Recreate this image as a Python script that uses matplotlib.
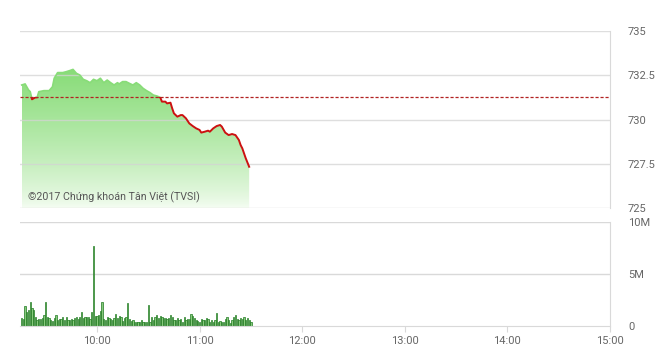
import matplotlib
matplotlib.use("Agg")
import matplotlib.pyplot as plt
import numpy as np
from matplotlib.patches import Rectangle
from matplotlib.colors import to_rgb

# ---------------- data ----------------
ref_price = 731.28

price_times = ["09:16", "09:18", "09:20", "09:21", "09:22", "09:24", "09:25", "09:26", "09:29", "09:32",
               "09:34", "09:35", "09:37", "09:40", "09:42", "09:44", "09:46", "09:48", "09:50", "09:52",
               "09:54", "09:56", "09:58", "10:00", "10:02", "10:04", "10:06", "10:08", "10:10", "10:12",
               "10:13", "10:15", "10:17", "10:19", "10:21", "10:23", "10:25", "10:27", "10:29", "10:31",
               "10:33", "10:35", "10:37", "10:38", "10:40", "10:41", "10:43", "10:44", "10:45", "10:47",
               "10:49", "10:50", "10:52", "10:54", "10:56", "10:58", "11:00", "11:01", "11:03", "11:05",
               "11:06", "11:08", "11:10", "11:12", "11:13", "11:15", "11:17", "11:19", "11:21", "11:23",
               "11:24", "11:25", "11:27", "11:29"]
price_values = [731.95, 732.01, 731.67, 731.57, 731.14, 731.25, 731.25, 731.57, 731.63, 731.63,
                731.85, 732.33, 732.65, 732.65, 732.70, 732.76, 732.83, 732.61, 732.51, 732.27,
                732.19, 732.08, 732.27, 732.19, 732.33, 732.08, 732.23, 732.08, 731.95, 732.08,
                732.01, 732.14, 732.14, 732.04, 731.95, 732.08, 731.95, 731.76, 731.63, 731.52,
                731.38, 731.33, 731.25, 731.01, 731.01, 730.91, 730.95, 730.63, 730.35, 730.16,
                730.25, 730.25, 730.07, 729.78, 729.63, 729.50, 729.41, 729.26, 729.31, 729.37,
                729.31, 729.50, 729.63, 729.69, 729.60, 729.26, 729.12, 729.18, 729.12, 728.84,
                728.56, 728.37, 727.81, 727.33]

volume_start = "09:16"   # one bar per minute
volume_values = [0.75, 0.70, 1.95, 1.30, 1.55, 2.35, 1.70, 1.50, 0.90, 0.60,
                 0.70, 0.70, 0.75, 1.05, 2.35, 0.90, 0.75, 0.60, 0.45, 0.80,
                 1.05, 0.60, 0.65, 0.70, 0.90, 0.60, 0.85, 0.60, 0.60, 0.65,
                 0.60, 0.75, 0.85, 0.65, 0.90, 1.30, 0.75, 0.85, 0.90, 0.85,
                 0.70, 1.30, 7.66, 0.95, 1.00, 1.07, 1.40, 2.27, 0.65, 0.58,
                 0.84, 0.75, 0.71, 0.58, 0.75, 1.17, 0.75, 0.97, 0.84, 0.52,
                 0.75, 0.84, 2.20, 0.65, 0.52, 0.58, 0.42, 0.42, 0.39, 0.42,
                 0.58, 0.42, 0.42, 0.39, 2.00, 0.42, 0.84, 0.58, 0.91, 1.07,
                 0.75, 0.97, 0.91, 0.75, 0.78, 0.65, 0.75, 1.07, 0.84, 0.58,
                 0.58, 0.75, 0.58, 0.71, 0.42, 0.91, 0.58, 0.71, 0.65, 1.17,
                 0.97, 0.75, 0.58, 0.52, 0.42, 0.65, 0.58, 0.58, 0.75, 0.65,
                 0.42, 0.58, 0.42, 0.60, 1.23, 0.42, 0.52, 0.42, 0.42, 0.71,
                 0.84, 0.58, 0.32, 0.58, 0.84, 1.07, 0.71, 0.58, 0.75, 0.71,
                 0.84, 0.58, 0.75, 0.58, 0.42]  # millions

x_ticks = ["10:00", "11:00", "12:00", "13:00", "14:00", "15:00"]
price_ticks = [725, 727.5, 730, 732.5, 735]
price_tick_labels = ["725", "727.5", "730", "732.5", "735"]
vol_ticks = [0, 5, 10]
vol_tick_labels = ["0", "5M", "10M"]
watermark = "©2017 Chứng khoán Tân Việt (TVSI)"

SESSION_START = "09:15"
SESSION_END = "15:00"


def to_min(s):
    h, m = s.split(":")
    return int(h) * 60 + int(m) - (9 * 60 + 15)


px = np.array([to_min(t) for t in price_times], dtype=float)
py = np.array(price_values)
vx = to_min(volume_start) + np.arange(len(volume_values))
vy = np.array(volume_values)
xmin, xmax = to_min(SESSION_START), to_min(SESSION_END)

# ---------------- figure ----------------
plt.rcParams['font.family'] = ['Roboto', 'DejaVu Sans']
W, H = 660, 355
fig = plt.figure(figsize=(W / 100, H / 100), dpi=100)
fig.patch.set_facecolor("white")

def rect(l, t, r, b):
    return [l / W, 1 - b / H, (r - l) / W, (b - t) / H]

ax = fig.add_axes(rect(20, 31, 610, 208))
axv = fig.add_axes(rect(20, 222, 610, 326))

grid_c = "#d9d9d9"
label_c = "#666666"

# ---- price panel ----
ymin, ymax = 725, 735
top_c = np.array(to_rgb("#88dc78"))
bot_c = np.array(to_rgb("#f6fdf4"))
n = 256
frac = np.linspace(0, 1, n)[:, None] ** 0.75
grad = (bot_c[None, :] * (1 - frac) + top_c[None, :] * frac)
grad = np.repeat(grad[:, None, :], 2, axis=1)
gtop = py.max()
poly = ax.fill_between(px, py, ymin, color="none", lw=0)
img = ax.imshow(grad, extent=[px.min(), px.max(), ymin, gtop], origin="lower",
                aspect="auto", zorder=1, interpolation="bilinear")
img.set_clip_path(poly.get_paths()[0], transform=ax.transData)

above = Rectangle((xmin, ref_price), xmax - xmin, ymax - ref_price, transform=ax.transData)
below = Rectangle((xmin, ymin), xmax - xmin, ref_price - ymin, transform=ax.transData)
l1, = ax.plot(px, py, color="#88dc78", lw=1.2, zorder=3)
l1.set_clip_path(above)
l2, = ax.plot(px, py, color="#cc1111", lw=1.4, zorder=3)
l2.set_clip_path(below)
ax.axhline(ref_price, color="#b22222", lw=0.9, ls=(0, (2.5, 1.5)), zorder=4)

ax.set_xlim(xmin, xmax)
ax.set_ylim(ymin, ymax)
ax.set_yticks(price_ticks)
ax.set_yticklabels(price_tick_labels)
ax.yaxis.tick_right()
ax.tick_params(axis="y", length=0, pad=13, labelsize=8, labelcolor=label_c)
ax.set_xticks([])
for y in price_ticks:
    ax.axhline(y, color="#d4d4d4", lw=1, alpha=0.75, zorder=2)
for s in ["left", "top", "bottom"]:
    ax.spines[s].set_visible(False)
ax.spines["right"].set_color(grid_c)
ax.text(8 / 590, 0.04, watermark, transform=ax.transAxes,
        fontsize=7.7, color="#555555", zorder=5)

# ---- volume panel ----
axv.bar(vx, vy, width=0.75, color="#86c97c", edgecolor="#1f7a1f", lw=0.5, zorder=2)
axv.set_xlim(xmin, xmax)
axv.set_ylim(0, 10)
axv.set_yticks(vol_ticks)
axv.set_yticklabels(vol_tick_labels)
axv.yaxis.tick_right()
axv.tick_params(axis="y", length=0, pad=13, labelsize=8, labelcolor=label_c)
for y in vol_ticks[1:]:
    axv.axhline(y, color=grid_c, lw=1, zorder=0.5)
axv.set_xticks([to_min(t) for t in x_ticks])
axv.set_xticklabels(x_ticks)
axv.tick_params(axis="x", length=4, color=grid_c, labelsize=8, labelcolor=label_c, pad=3)
for s in ["left", "top"]:
    axv.spines[s].set_visible(False)
axv.spines["right"].set_color(grid_c)
axv.spines["bottom"].set_color(grid_c)

fig.savefig("out.png", dpi=100, facecolor="white")
